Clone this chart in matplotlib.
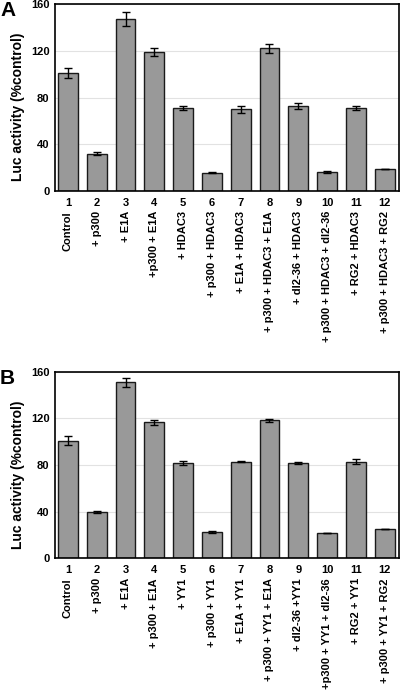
import numpy as np
import matplotlib
matplotlib.use("Agg")
from matplotlib import pyplot as plt
from matplotlib.transforms import blended_transform_factory

plt.rcParams['font.family'] = ['Liberation Sans', 'DejaVu Sans']
plt.rcParams['font.weight'] = 'bold'

lanes = list(range(1, 13))

labels_a = ["Control", "+ p300", "+ E1A", "+p300 + E1A", "+ HDAC3",
            "+ p300 + HDAC3", "+ E1A + HDAC3", "+ p300 + HDAC3 + E1A",
            "+ dl2-36 + HDAC3", "+ p300 + HDAC3 + dl2-36", "+ RG2 + HDAC3",
            "+ p300 + HDAC3 + RG2"]
values_a = [101, 32, 147, 119, 71, 15.5, 70, 122, 72.5, 16.5, 71, 18.6]
errors_a = [4, 1, 6, 3.5, 2, 0.5, 3, 4, 2.5, 0.8, 1.4, 0]

labels_b = ["Control", "+ p300", "+ E1A", "+ p300 + E1A", "+ YY1",
            "+ p300 + YY1", "+ E1A + YY1", "+ p300 + YY1 + E1A",
            "+ dl2-36 +YY1", "+p300 + YY1 + dl2-36", "+ RG2 + YY1",
            "+ p300 + YY1 + RG2"]
values_b = [101, 39.7, 151, 116.5, 82, 22.3, 83, 118.3, 82, 22, 83, 25.4]
errors_b = [3.5, 1, 4, 2.2, 1.8, 0.8, 0.5, 1.3, 1, 0, 2.2, 0]

yticks = [0, 40, 80, 120, 160]


def panel(fig, rect, letter, values, errors, labels):
    ax = fig.add_axes(rect)
    ax.set_axisbelow(True)
    ax.yaxis.grid(True, color='#e2e2e2', linewidth=0.8)
    ax.bar(lanes, values, width=0.69, color='#999999', edgecolor='#1a1a1a',
           linewidth=1.0)
    ax.errorbar(lanes, values, yerr=errors, fmt='none', ecolor='black',
                elinewidth=1.0, capsize=2.6, capthick=1.0)
    ax.set_xlim(0.55, 12.5)
    ax.set_ylim(0, 160)
    ax.set_yticks(yticks)
    ax.set_yticklabels([str(t) for t in yticks], fontsize=8, fontweight='bold')
    ax.tick_params(axis='y', length=0, pad=4)
    ax.set_xticks([])
    for s in ax.spines.values():
        s.set_linewidth(1.2)
    ax.set_ylabel("Luc activity (%control)", fontsize=10, fontweight='bold')
    ax.yaxis.set_label_coords(-0.088, 0.45)
    trans = blended_transform_factory(ax.transData, ax.transAxes)
    for x, lab in zip(lanes, labels):
        ax.text(x, -0.035, str(x), transform=trans, ha='center', va='top',
                fontsize=8, fontweight='bold')
        ax.text(x, -0.107, lab, transform=trans, ha='center', va='top',
                rotation=90, fontsize=8, fontweight='bold')
    fig.text(0.0, rect[1] + rect[3] + 0.004, letter, fontsize=15,
             fontweight='bold', ha='left', va='top')
    return ax


fig = plt.figure(figsize=(4.0, 6.93), dpi=100)
panel(fig, [0.1375, 0.7244, 0.86, 0.2698], "A", values_a, errors_a, labels_a)
panel(fig, [0.1375, 0.1944, 0.86, 0.2692], "B", values_b, errors_b, labels_b)
fig.savefig("out.png", dpi=100)
